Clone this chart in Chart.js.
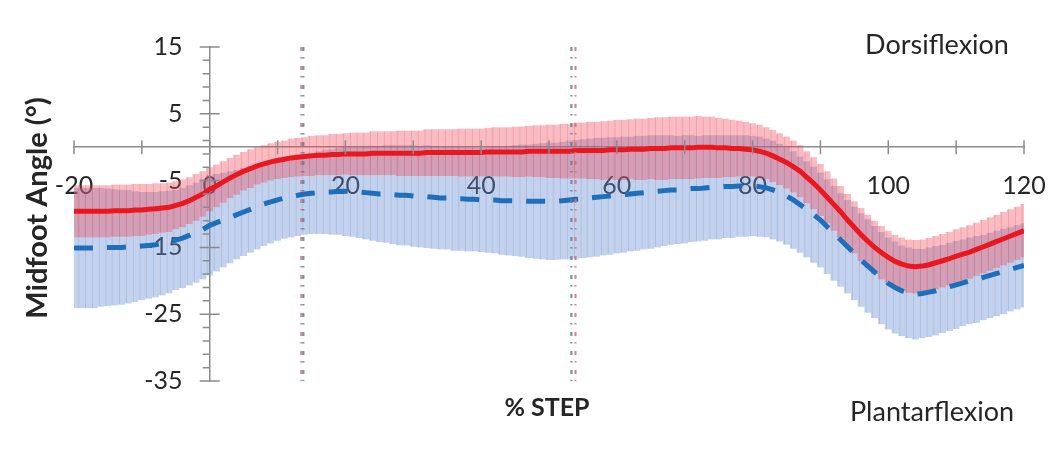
<!DOCTYPE html>
<html>
<head>
<meta charset="utf-8">
<script src="https://cdn.jsdelivr.net/npm/chart.js@4.4.1/dist/chart.umd.min.js"></script>
<style>
html, body { margin: 0; padding: 0; background: #fff; }
#wrap { width: 1058px; height: 458px; }
</style>
</head>
<body>
<div id="wrap"><canvas id="chart"></canvas></div>
<script>
var pct = [
    -20, -19, -18, -17, -16, -15, -14, -13, -12, -11,
    -10, -9, -8, -7, -6, -5, -4, -3, -2, -1,
    0, 1, 2, 3, 4, 5, 6, 7, 8, 9,
    10, 11, 12, 13, 14, 15, 16, 17, 18, 19,
    20, 21, 22, 23, 24, 25, 26, 27, 28, 29,
    30, 31, 32, 33, 34, 35, 36, 37, 38, 39,
    40, 41, 42, 43, 44, 45, 46, 47, 48, 49,
    50, 51, 52, 53, 54, 55, 56, 57, 58, 59,
    60, 61, 62, 63, 64, 65, 66, 67, 68, 69,
    70, 71, 72, 73, 74, 75, 76, 77, 78, 79,
    80, 81, 82, 83, 84, 85, 86, 87, 88, 89,
    90, 91, 92, 93, 94, 95, 96, 97, 98, 99,
    100, 101, 102, 103, 104, 105, 106, 107, 108, 109,
    110, 111, 112, 113, 114, 115, 116, 117, 118, 119,
    120
];

// red series (mean, SD)
var redMean = [
    -9.6, -9.6, -9.6, -9.6, -9.6, -9.6, -9.5, -9.5, -9.5, -9.4,
    -9.4, -9.3, -9.2, -9.1, -9.0, -8.7, -8.4, -8.0, -7.5, -7.0,
    -6.3, -5.8, -5.2, -4.6, -4.1, -3.6, -3.2, -2.8, -2.5, -2.2,
    -2.0, -1.8, -1.6, -1.5, -1.4, -1.3, -1.2, -1.2, -1.1, -1.1,
    -1.0, -1.0, -1.0, -1.0, -0.9, -0.9, -0.9, -0.9, -0.9, -0.9,
    -0.9, -0.9, -0.8, -0.8, -0.8, -0.8, -0.8, -0.8, -0.8, -0.8,
    -0.8, -0.7, -0.7, -0.7, -0.7, -0.7, -0.7, -0.6, -0.6, -0.6,
    -0.6, -0.6, -0.6, -0.6, -0.5, -0.5, -0.5, -0.5, -0.5, -0.4,
    -0.4, -0.4, -0.3, -0.3, -0.3, -0.2, -0.2, -0.2, -0.1, -0.1,
    -0.1, -0.1, 0.0, 0.0, 0.0, -0.1, -0.1, -0.2, -0.2, -0.3,
    -0.4, -0.6, -0.9, -1.3, -1.8, -2.3, -2.9, -3.6, -4.5, -5.4,
    -6.4, -7.5, -8.6, -9.7, -10.9, -12.0, -13.1, -14.1, -15.0, -15.8,
    -16.5, -17.1, -17.5, -17.8, -17.9, -17.8, -17.6, -17.3, -17.0, -16.7,
    -16.3, -16.0, -15.7, -15.3, -14.9, -14.5, -14.1, -13.7, -13.3, -12.9,
    -12.5
];
var redSD = [
    3.9, 3.9, 3.9, 3.9, 3.9, 3.9, 3.9, 3.9, 3.9, 3.9,
    3.9, 3.8, 3.8, 3.7, 3.7, 3.6, 3.6, 3.5, 3.5, 3.4,
    3.3, 3.2, 3.1, 3.0, 3.0, 2.9, 2.9, 2.8, 2.8, 2.8,
    2.8, 2.8, 2.9, 2.9, 2.9, 3.0, 3.0, 3.0, 3.1, 3.1,
    3.1, 3.2, 3.2, 3.2, 3.3, 3.3, 3.3, 3.3, 3.4, 3.4,
    3.4, 3.4, 3.5, 3.5, 3.5, 3.5, 3.5, 3.6, 3.6, 3.6,
    3.6, 3.6, 3.7, 3.7, 3.7, 3.8, 3.8, 3.8, 3.9, 3.9,
    4.0, 4.0, 4.1, 4.1, 4.2, 4.2, 4.3, 4.3, 4.4, 4.4,
    4.5, 4.5, 4.5, 4.6, 4.6, 4.6, 4.7, 4.7, 4.7, 4.7,
    4.7, 4.7, 4.7, 4.6, 4.6, 4.5, 4.4, 4.3, 4.2, 4.1,
    4.0, 4.0, 3.9, 3.9, 3.9, 3.9, 3.9, 3.9, 3.9, 3.9,
    3.9, 3.9, 3.9, 3.9, 3.9, 3.9, 4.0, 4.0, 4.0, 4.0,
    4.0, 4.0, 4.0, 4.0, 4.0, 4.0, 4.0, 4.0, 4.0, 4.0,
    4.0, 4.0, 4.0, 4.0, 4.0, 4.0, 4.0, 4.0, 4.0, 4.0,
    4.0
];

// blue series (mean, SD)
var blueMean = [
    -15.1, -15.1, -15.1, -15.1, -15.0, -15.0, -15.0, -15.0, -14.9, -14.9,
    -14.8, -14.7, -14.6, -14.4, -14.2, -13.9, -13.6, -13.2, -12.8, -12.3,
    -11.7, -11.3, -10.9, -10.5, -10.1, -9.7, -9.3, -8.9, -8.5, -8.2,
    -7.9, -7.6, -7.4, -7.2, -7.0, -6.9, -6.8, -6.7, -6.7, -6.6,
    -6.6, -6.6, -6.7, -6.8, -6.9, -7.0, -7.0, -7.1, -7.2, -7.2,
    -7.3, -7.4, -7.4, -7.5, -7.6, -7.6, -7.7, -7.7, -7.8, -7.8,
    -7.9, -7.9, -7.9, -8.0, -8.0, -8.0, -8.0, -8.1, -8.1, -8.1,
    -8.1, -8.1, -8.0, -7.9, -7.8, -7.7, -7.6, -7.5, -7.4, -7.3,
    -7.2, -7.1, -7.0, -6.9, -6.8, -6.7, -6.6, -6.5, -6.4, -6.4,
    -6.3, -6.2, -6.2, -6.1, -6.0, -6.0, -5.9, -5.9, -5.8, -5.8,
    -5.8, -5.9, -6.1, -6.4, -6.8, -7.3, -7.9, -8.6, -9.3, -10.1,
    -10.9, -11.9, -12.9, -13.9, -14.9, -15.9, -16.9, -17.8, -18.7, -19.6,
    -20.4, -21.0, -21.5, -21.8, -22.0, -21.9, -21.7, -21.5, -21.2, -20.9,
    -20.6, -20.3, -20.0, -19.8, -19.5, -19.2, -18.9, -18.6, -18.3, -18.0,
    -17.7
];
var blueSD = [
    9.0, 9.0, 9.0, 9.0, 8.9, 8.8, 8.7, 8.6, 8.5, 8.3,
    8.1, 8.0, 7.9, 7.8, 7.7, 7.5, 7.5, 7.5, 7.5, 7.5,
    7.5, 7.3, 7.1, 6.9, 6.7, 6.6, 6.5, 6.4, 6.3, 6.2,
    6.1, 6.1, 6.1, 6.1, 6.1, 6.1, 6.2, 6.3, 6.4, 6.5,
    6.7, 6.8, 6.9, 7.0, 7.1, 7.2, 7.3, 7.4, 7.5, 7.5,
    7.6, 7.6, 7.7, 7.7, 7.7, 7.7, 7.8, 7.8, 7.8, 7.8,
    7.8, 7.9, 8.0, 8.1, 8.2, 8.3, 8.4, 8.5, 8.6, 8.7,
    8.8, 8.8, 8.8, 8.9, 8.9, 8.9, 8.9, 8.9, 8.8, 8.8,
    8.7, 8.7, 8.6, 8.6, 8.5, 8.5, 8.4, 8.3, 8.2, 8.1,
    8.1, 8.0, 7.9, 7.9, 7.8, 7.8, 7.7, 7.7, 7.6, 7.6,
    7.5, 7.5, 7.4, 7.4, 7.3, 7.3, 7.3, 7.2, 7.2, 7.2,
    7.1, 7.1, 7.1, 7.0, 7.0, 7.0, 7.0, 7.0, 6.9, 6.9,
    6.9, 6.9, 6.8, 6.8, 6.8, 6.7, 6.7, 6.7, 6.6, 6.6,
    6.6, 6.5, 6.5, 6.5, 6.4, 6.4, 6.4, 6.4, 6.3, 6.3,
    6.3
];

// event markers (% step) and axis range
var redEvents = [13.5, 53.9];
var blueEvents = [13.8, 53.3];
var xRange = [-20, 120];
var yRange = [-35, 15];

var red = 'rgb(234, 24, 30)';
var blue = 'rgb(30, 110, 186)';
var axisGrey = 'rgb(140, 140, 140)';
var textColor = 'rgb(38, 38, 38)';

function points(means) {
    return pct.map(function (x, i) { return { x: x, y: means[i] }; });
}

function bars(means, sds) {
    return pct.map(function (x, i) {
        return { x: x, y: [means[i] - sds[i], means[i] + sds[i]] };
    });
}

function eventLine(x, color, order) {
    return {
        type: 'line',
        data: [{ x: x, y: yRange[1] }, { x: x, y: yRange[0] }],
        borderColor: color,
        borderWidth: 2.2,
        borderDash: [4, 6, 1.5, 7.5],
        pointRadius: 0,
        order: order
    };
}

function noPad(scale) {
    scale.paddingLeft = 0;
    scale.paddingRight = 0;
    scale.paddingTop = 0;
    scale.paddingBottom = 0;
}

var datasets = [{
    type: 'line',
    label: 'red mean',
    data: points(redMean),
    borderColor: red,
    borderWidth: 5,
    pointRadius: 0,
    tension: 0,
    order: 2
}, {
    type: 'line',
    label: 'blue mean',
    data: points(blueMean),
    borderColor: blue,
    borderWidth: 5,
    borderDash: [19, 14],
    pointRadius: 0,
    tension: 0,
    order: 3
}, {
    type: 'bar',
    label: 'red SD',
    data: bars(redMean, redSD),
    backgroundColor: 'rgba(240, 70, 85, 0.36)',
    borderColor: 'rgba(225, 70, 90, 0.35)',
    borderWidth: { left: 1.5, right: 0, top: 0, bottom: 0 },
    borderSkipped: false,
    grouped: false,
    barPercentage: 1,
    categoryPercentage: 1,
    order: 4
}, {
    type: 'bar',
    label: 'blue SD',
    data: bars(blueMean, blueSD),
    backgroundColor: 'rgba(105, 142, 212, 0.4)',
    borderColor: 'rgba(95, 125, 190, 0.35)',
    borderWidth: { left: 1.5, right: 0, top: 0, bottom: 0 },
    borderSkipped: false,
    grouped: false,
    barPercentage: 1,
    categoryPercentage: 1,
    order: 5
}];

redEvents.forEach(function (x) {
    datasets.push(eventLine(x, 'rgba(232, 105, 115, 0.85)', 1));
});
blueEvents.forEach(function (x) {
    datasets.push(eventLine(x, 'rgba(75, 135, 155, 0.85)', 0));
});

// minor/major tick marks drawn through the scales, plus free text
var decorations = {
    id: 'decorations',
    afterDraw: function (chart) {
        var ctx = chart.ctx;
        var xs = chart.scales.x;
        var ys = chart.scales.y;
        var ax = xs.getPixelForValue(0);
        var ay = ys.getPixelForValue(0);
        ctx.save();
        ctx.strokeStyle = axisGrey;
        ctx.lineWidth = 1.5;
        ctx.beginPath();
        ys.ticks.forEach(function (t) {
            var py = ys.getPixelForValue(t.value);
            if ((t.value - yRange[0]) % 10 === 0) {
                ctx.moveTo(ax - 10, py);
                ctx.lineTo(ax + 10, py);
            } else {
                ctx.moveTo(ax - 7, py);
                ctx.lineTo(ax, py);
            }
        });
        xs.ticks.forEach(function (t) {
            var px = xs.getPixelForValue(t.value);
            ctx.moveTo(px, ay - 7);
            ctx.lineTo(px, ay + 7);
        });
        ctx.stroke();

        ctx.fillStyle = textColor;
        ctx.textBaseline = 'middle';
        ctx.textAlign = 'center';
        ctx.font = '27px Lato';
        ctx.fillText('Dorsiflexion', 937, 45);
        ctx.fillText('Plantarflexion', 932, 412);
        ctx.font = 'bold 25px Lato';
        ctx.fillText('% STEP', 547, 408);
        ctx.translate(38, 208);
        ctx.rotate(-Math.PI / 2);
        ctx.font = 'bold 29px Lato';
        ctx.fillText('Midfoot Angle (°)', 0, 0);
        ctx.restore();
    }
};

var ctx = document.getElementById('chart').getContext('2d');
var chart = new Chart(ctx, {
    type: 'line',
    data: { datasets: datasets },
    options: {
        responsive: true,
        maintainAspectRatio: false,
        animation: false,
        layout: { padding: { left: 74, right: 34, top: 47, bottom: 77 } },
        plugins: { legend: { display: false }, tooltip: { enabled: false } },
        scales: {
            x: {
                type: 'linear',
                min: xRange[0],
                max: xRange[1],
                position: { y: 0 },
                offset: false,
                afterFit: noPad,
                grid: { drawOnChartArea: false, drawTicks: false, offset: false },
                border: { display: true, color: axisGrey, width: 1.5 },
                ticks: {
                    stepSize: 10,
                    autoSkip: false,
                    maxRotation: 0,
                    padding: 24,
                    color: textColor,
                    font: { family: 'Lato', size: 25 },
                    callback: function (v) { return v % 20 === 0 ? v : ''; }
                }
            },
            y: {
                type: 'linear',
                min: yRange[0],
                max: yRange[1],
                position: { x: 0 },
                afterFit: noPad,
                grid: { drawOnChartArea: false, drawTicks: false },
                border: { display: true, color: axisGrey, width: 1.5 },
                ticks: { stepSize: 2, autoSkip: false, display: false }
            },
            yLabels: {
                type: 'linear',
                axis: 'y',
                min: yRange[0],
                max: yRange[1],
                position: { x: -4 },
                afterFit: noPad,
                grid: { display: false, drawTicks: false },
                border: { display: false },
                ticks: {
                    stepSize: 10,
                    autoSkip: false,
                    padding: 0,
                    color: textColor,
                    font: { family: 'Lato', size: 25 }
                }
            }
        }
    },
    plugins: [decorations]
});
</script>
</body>
</html>
